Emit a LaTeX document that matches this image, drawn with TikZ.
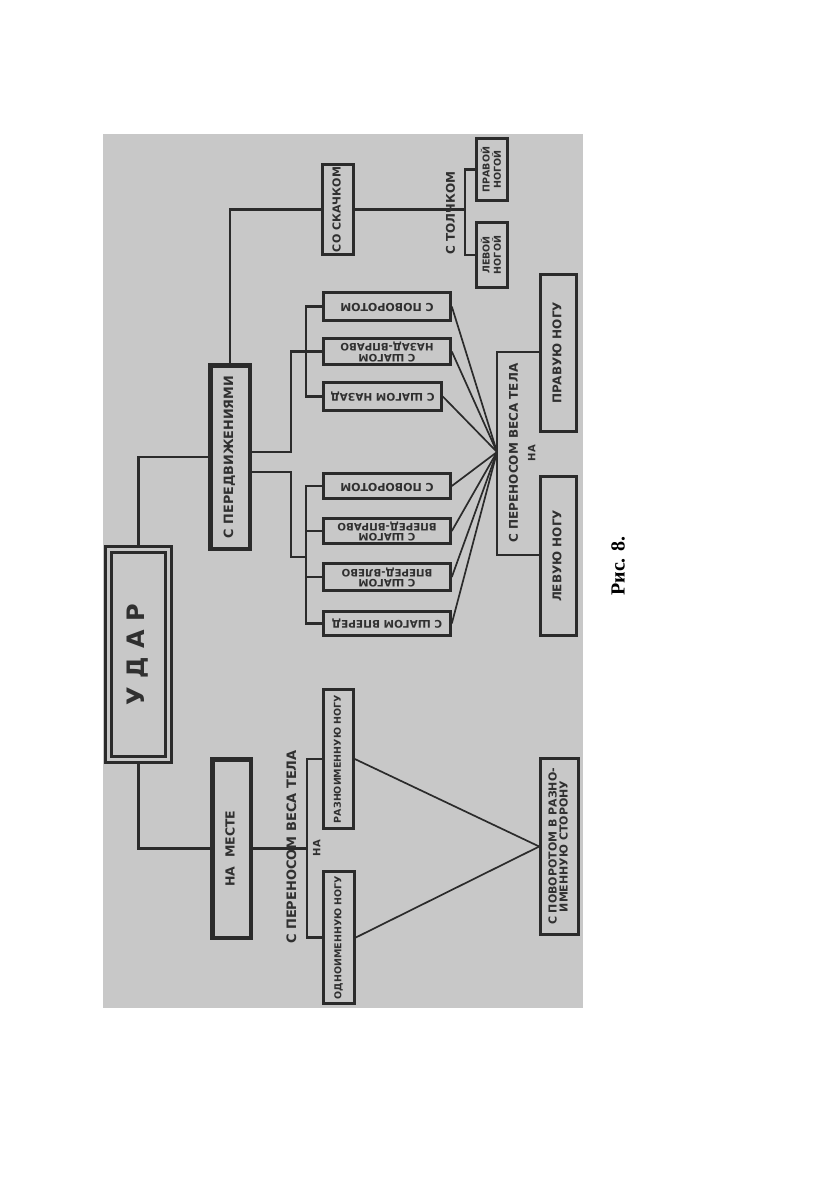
\documentclass[tikz,border=0pt]{standalone}
\usepackage{fontspec}
\usepackage{graphicx}
\setmainfont{DejaVu Sans}
\newfontfamily\serifcyr{Liberation Serif}
\usetikzlibrary{calc}
\definecolor{bgc}{HTML}{C8C8C8}
\definecolor{lc}{HTML}{2B2B2B}
\definecolor{tc}{HTML}{303030}
\renewcommand\arraystretch{0.85}
\newcommand\vtxt[1]{\rotatebox{90}{\begin{tabular}{@{}c@{}}#1\end{tabular}}}
\newcommand\utxt[1]{\rotatebox{180}{\begin{tabular}{@{}c@{}}#1\end{tabular}}}
\newcommand\fz[1]{\bfseries\fontsize{#1}{#1}\selectfont}
\begin{document}
\begin{tikzpicture}[x=1pt,y=-1pt,
  box/.style={draw=lc, line width=2.6pt, fill=bgc, inner sep=0pt, text=tc},
  thickbox/.style={box, line width=4.5pt},
  conn/.style={draw=lc, line width=2.5pt},
  ray/.style={draw=lc, line width=1.7pt},
  lbl/.style={inner sep=0pt, text=tc}]
\useasboundingbox (0,0) rectangle (840,1191);
\fill[white] (0,0) rectangle (840,1191);
\fill[bgc] (103,134) rectangle (583,1008);

% main boxes
\node[box, double=bgc, double distance=3pt, line width=3pt, minimum width=60pt, minimum height=210pt, font=\fz{24}] (udar) at (138.5,654.5) {\vtxt{У Д А Р}};
\node[thickbox, minimum width=39.5pt, minimum height=183.5pt, font=\fz{12.8}] (dv) at (230,457) {\vtxt{С ПЕРЕДВИЖЕНИЯМИ}};
\node[thickbox, minimum width=38.5pt, minimum height=178.5pt, font=\fz{12.5}] (nm) at (231.5,848.5) {\vtxt{НА\ \ МЕСТЕ}};

% upper branch
\node[box, minimum width=31pt, minimum height=90pt, font=\fz{11}] (sk) at (338,209.5) {\vtxt{СО СКАЧКОМ}};
\node[box, minimum width=31pt, minimum height=62pt, font=\fz{9.5}] (pn) at (492,169.5) {\vtxt{ПРАВОЙ\\НОГОЙ}};
\node[box, minimum width=31pt, minimum height=65pt, font=\fz{9.5}] (ln) at (492,255) {\vtxt{ЛЕВОЙ\\НОГОЙ}};

\node[box, minimum width=127pt, minimum height=28pt, font=\fz{11}] (a1) at (387,306.5) {\utxt{С ПОВОРОТОМ}};
\node[box, minimum width=127pt, minimum height=26pt, font=\fz{10.2}] (a2) at (387,351.5) {\utxt{С ШАГОМ\\НАЗАД-ВПРАВО}};
\node[box, minimum width=118pt, minimum height=28pt, font=\fz{10.5}] (a3) at (382.5,396.5) {\utxt{С ШАГОМ НАЗАД}};
\node[box, minimum width=127pt, minimum height=25pt, font=\fz{11}] (b1) at (387,486) {\utxt{С ПОВОРОТОМ}};
\node[box, minimum width=127pt, minimum height=25pt, font=\fz{10.2}] (b2) at (387,531) {\utxt{С ШАГОМ\\ВПЕРЕД-ВПРАВО}};
\node[box, minimum width=127pt, minimum height=27pt, font=\fz{10.2}] (b3) at (387,577) {\utxt{С ШАГОМ\\ВПЕРЕД-ВЛЕВО}};
\node[box, minimum width=127pt, minimum height=24pt, font=\fz{10.5}] (b4) at (387,623.5) {\utxt{С ШАГОМ ВПЕРЕД}};

\node[box, minimum width=36pt, minimum height=157pt, font=\fz{12}] (pravuyu) at (558.5,353) {\vtxt{ПРАВУЮ НОГУ}};
\node[box, minimum width=36pt, minimum height=159pt, font=\fz{12}] (levuyu) at (558.5,556) {\vtxt{ЛЕВУЮ НОГУ}};

% lower branch
\node[box, minimum width=30pt, minimum height=139pt, font=\fz{9.5}] (rz) at (338.5,759) {\vtxt{РАЗНОИМЕННУЮ НОГУ}};
\node[box, minimum width=31pt, minimum height=132pt, font=\fz{9.5}] (od) at (339,937.5) {\vtxt{ОДНОИМЕННУЮ НОГУ}};
\node[box, minimum width=38pt, minimum height=176pt, font=\fz{11}] (pv) at (559.5,846.5) {\vtxt{С ПОВОРОТОМ В РАЗНО-\\ИМЕННУЮ СТОРОНУ}};

% helper coordinates
\coordinate (tb) at (465,0);
\coordinate (g1) at (291,0);
\coordinate (g2) at (306,0);
\coordinate (jb) at (306,557);
\coordinate (cA) at (497,452);
\coordinate (lt) at (497,352);
\coordinate (lb) at (497,555);
\coordinate (lbr) at (307,0);
\coordinate (dvA) at ($(dv.east)+(0,-5)$);
\coordinate (dvB) at ($(dv.east)+(0,15)$);

% connectors
\draw[conn] (udar.north) |- (dv.west);
\draw[conn] (udar.south) |- (nm.west);
\draw[conn] (dv.north) |- (sk.west);
\draw[conn] (sk.east) -- (sk.east -| tb);
\draw[conn] (pn.west) -- (pn.west -| tb) -- (ln.west -| tb) -- (ln.west);

\draw[conn] (dvA) -- (dvA -| g1) -- (a2.west -| g1) -- (a2.west);
\draw[conn] (a1.west) -- (a1.west -| g2) -- (a3.west -| g2) -- (a3.west);
\draw[conn] (dvB) -- (dvB -| g1) -- (jb -| g1) -- (jb);
\draw[conn] (b1.west) -- (b1.west -| g2) -- (b4.west -| g2) -- (b4.west);
\draw[conn] (b2.west -| g2) -- (b2.west);
\draw[conn] (b3.west -| g2) -- (b3.west);

\foreach \n in {a1,a2,a3,b1,b2,b3,b4} \draw[ray] (\n.east) -- (cA);
\draw[conn] (lt -| pravuyu.west) -- (lt) -- (lb) -- (lb -| levuyu.west);

\draw[conn] (nm.east) -- (nm.east -| lbr);
\draw[conn] (rz.west) -- (rz.west -| lbr) -- (od.west -| lbr) -- (od.west);
\draw[ray] (rz.east) -- (pv.west);
\draw[ray] (od.east) -- (pv.west);

% free labels
\node[lbl, font=\fz{12}] (tl) at (452,213) {\vtxt{С ТОЛЧКОМ}};
\node[lbl, font=\fz{12}] (t1) at (515,453) {\vtxt{С ПЕРЕНОСОМ ВЕСА ТЕЛА}};
\node[lbl, font=\fz{10}] (n1) at (533,453) {\vtxt{НА}};
\node[lbl, font=\fz{13}] (t2) at (293,847) {\vtxt{С ПЕРЕНОСОМ ВЕСА ТЕЛА}};
\node[lbl, font=\fz{10}] (n2) at (318,848) {\vtxt{НА}};

\node[lbl, text=black, font=\serifcyr\bfseries\fontsize{20}{22}\selectfont] (fig) at (618,566) {\rotatebox{90}{Рис. 8.}};
\end{tikzpicture}
\end{document}
